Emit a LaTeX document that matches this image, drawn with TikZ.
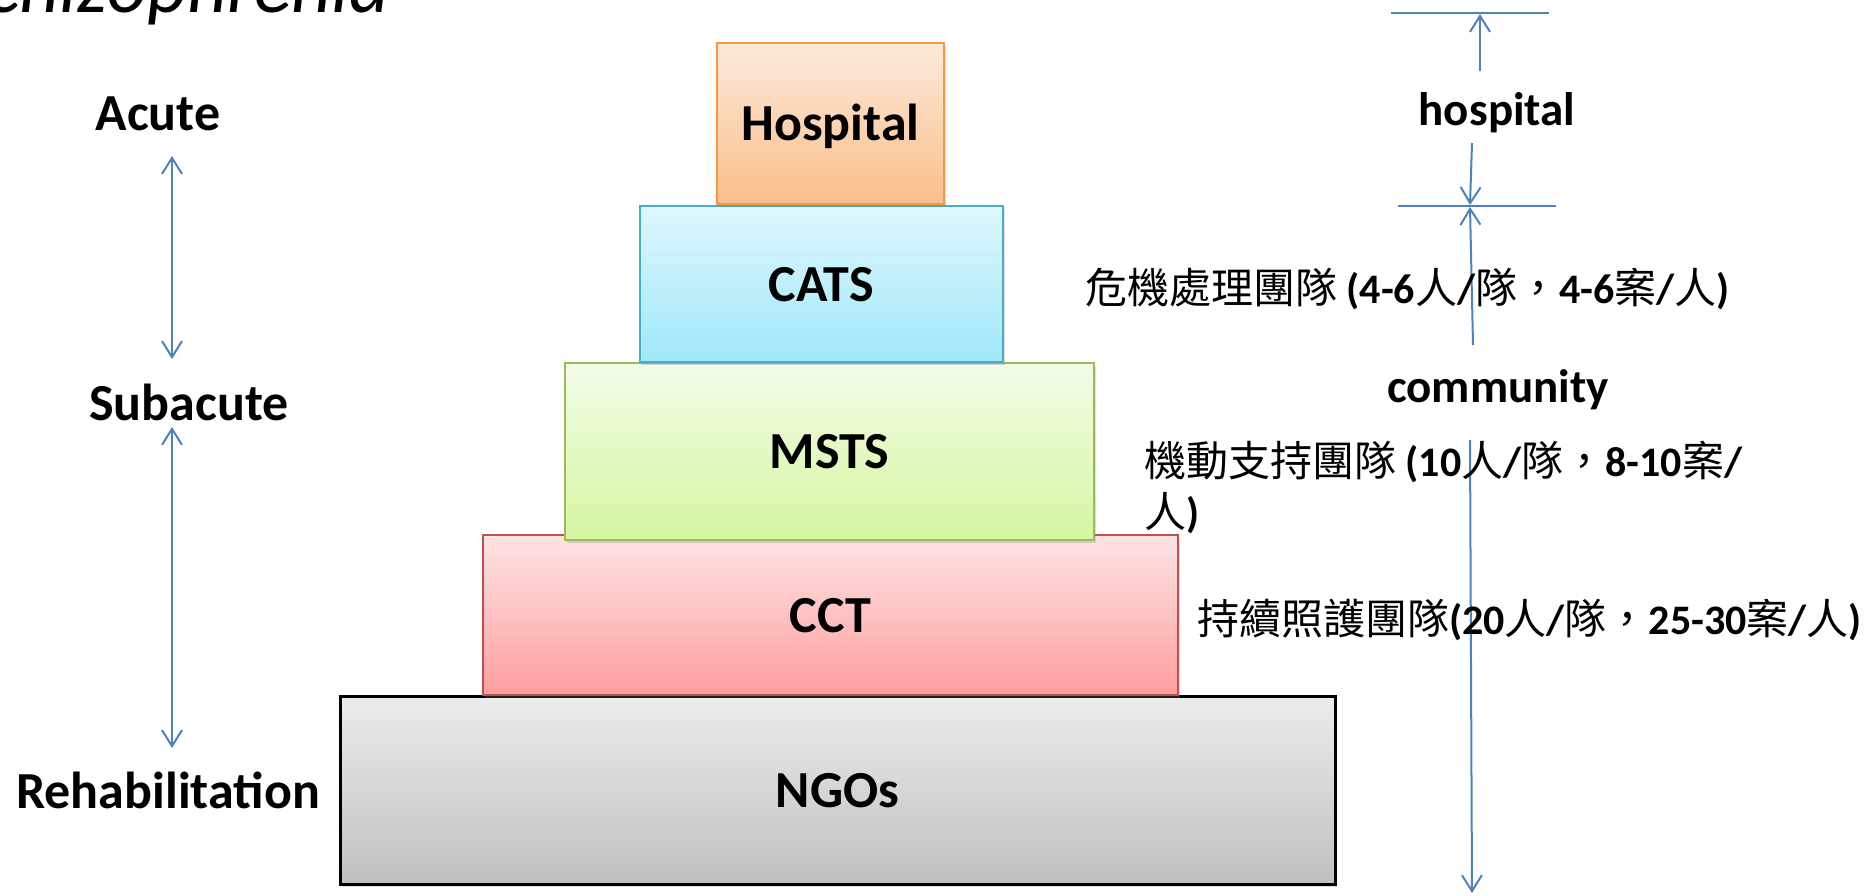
\documentclass[tikz,border=0pt]{standalone}
\usepackage{fontspec}
\setmainfont{Carlito}
\newfontfamily\cjkfont{Noto Sans CJK TC}
\usetikzlibrary{arrows.meta,shadows}
\definecolor{arrowblue}{RGB}{79,129,189}
\definecolor{hospTop}{RGB}{253,234,218}
\definecolor{hospBot}{RGB}{251,190,140}
\definecolor{hospLine}{RGB}{247,150,70}
\definecolor{catsTop}{RGB}{222,247,253}
\definecolor{catsBot}{RGB}{160,232,250}
\definecolor{catsLine}{RGB}{75,172,198}
\definecolor{mstsTop}{RGB}{242,252,232}
\definecolor{mstsBot}{RGB}{214,246,160}
\definecolor{mstsLine}{RGB}{155,187,89}
\definecolor{cctTop}{RGB}{253,228,228}
\definecolor{cctBot}{RGB}{255,158,158}
\definecolor{cctLine}{RGB}{192,80,77}
\definecolor{ngoTop}{RGB}{236,236,236}
\definecolor{ngoBot}{RGB}{192,192,192}
\newcommand{\zc}[1]{{\cjkfont\mdseries #1}}
\begin{document}
\begin{tikzpicture}[x=1pt,y=-1pt,
  >={Straight Barb[length=16pt,width=20pt]},
  tier/.style={draw, line width=2pt, inner sep=0pt,
    font=\fontsize{52}{60}\selectfont\bfseries,
    text height=34pt, text depth=0pt,
    drop shadow={shadow xshift=2pt, shadow yshift=-3pt, opacity=0.25}},
  stage/.style={inner sep=0pt, anchor=base, font=\fontsize{52}{60}\selectfont\bfseries},
  place/.style={inner sep=0pt, anchor=base, font=\fontsize{47}{56}\selectfont\bfseries},
  team/.style={inner sep=0pt, anchor=base west, align=left, font=\fontsize{42}{51}\selectfont\bfseries},
  blueline/.style={draw=arrowblue, line width=2pt},
]
\clip (0,0) rectangle (1873,895);

% title, cut by the top-left edge
\node[inner sep=0pt, anchor=base east, font=\fontsize{78}{90}\selectfont\itshape] (title) at (390,12) {Schizophrenia};

% pyramid tiers (bottom first, upper tiers drawn over)
\node[tier, draw=black, line width=3pt, top color=ngoTop, bottom color=ngoBot,
  minimum width=995pt, minimum height=188pt] (ngo) at (837.5,790) {NGOs};
\node[tier, draw=cctLine, top color=cctTop, bottom color=cctBot,
  minimum width=695pt, minimum height=160pt] (cct) at (830.5,615) {CCT};
\node[tier, draw=mstsLine, top color=mstsTop, bottom color=mstsBot,
  minimum width=529pt, minimum height=177pt] (msts) at (829.5,451) {MSTS};
\node[tier, draw=catsLine, top color=catsTop, bottom color=catsBot,
  minimum width=363pt, minimum height=156pt] (cats) at (821.5,284) {CATS};
\node[tier, draw=hospLine, top color=hospTop, bottom color=hospBot,
  minimum width=227pt, minimum height=161pt] (hosp) at (830.5,123) {Hospital};

% left stage labels
\node[stage] (acute) at (158,130) {Acute};
\node[stage] (subacute) at (189,420) {Subacute};
\node[stage] (rehab) at (168,808) {Rehabilitation};

\coordinate (lA1) at (172,156);
\coordinate (lA2) at (172,359);
\coordinate (lB1) at (172,427);
\coordinate (lB2) at (172,748);
\draw[blueline, <->] (lA1) -- (lA2);
\draw[blueline, <->] (lB1) -- (lB2);

% right side: hospital / community
\coordinate (topL) at (1391,13);
\coordinate (topR) at (1549,13);
\coordinate (midL) at (1398,206);
\coordinate (midR) at (1556,206);
\draw[blueline] (topL) -- (topR);
\draw[blueline] (midL) -- (midR);

\node[place] (hospital) at (1497,125) {hospital};
\node[place] (community) at (1498,402) {community};

\coordinate (hUpS) at (1480,71);
\coordinate (hUpE) at (1480,14);
\coordinate (hDnS) at (1472,143);
\coordinate (hDnE) at (1470,205);
\coordinate (cUpS) at (1473,345);
\coordinate (cUpE) at (1470,207);
\coordinate (cDnS) at (1470,440);
\coordinate (cDnE) at (1472,893);
\draw[blueline, ->] (hUpS) -- (hUpE);
\draw[blueline, ->] (hDnS) -- (hDnE);
\draw[blueline, ->] (cUpS) -- (cUpE);
\draw[blueline, ->] (cDnS) -- (cDnE);

% team descriptions
\node[team] (crisis) at (1085,303) {\zc{危機處理團隊} (4-6\zc{人}/\zc{隊，}4-6\zc{案}/\zc{人})};
\node[team] (mobile) at (1144,527) {\zc{機動支持團隊} (10\zc{人}/\zc{隊，}8-10\zc{案}/\\\zc{人})};
\node[team] (continuing) at (1197,634) {\zc{持續照護團隊}(20\zc{人}/\zc{隊，}25-30\zc{案}/\zc{人})};
\end{tikzpicture}
\end{document}
